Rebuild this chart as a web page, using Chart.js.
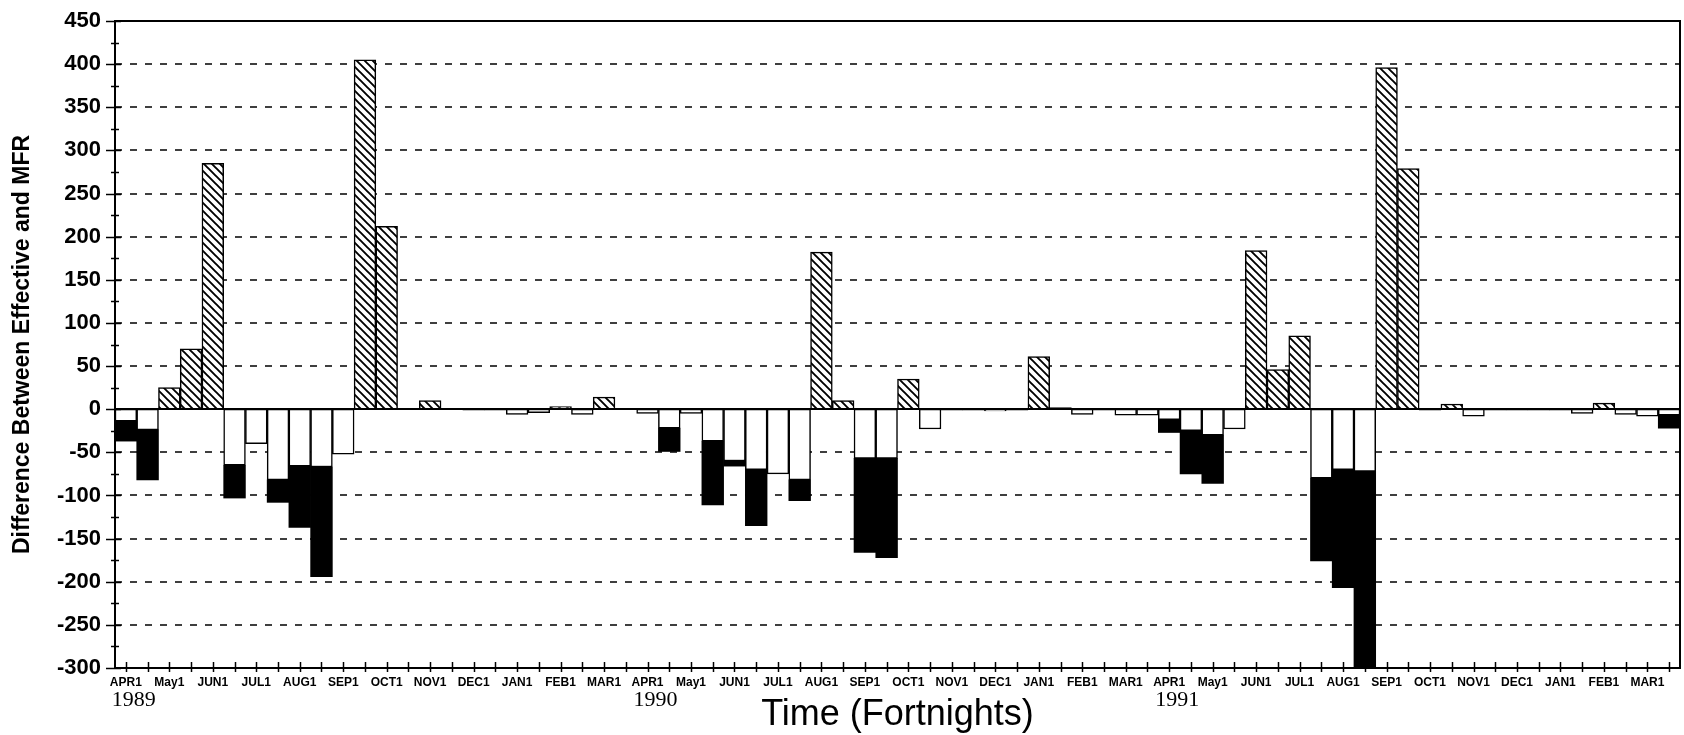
<!DOCTYPE html>
<html>
<head>
<meta charset="utf-8">
<script src="https://cdn.jsdelivr.net/npm/chart.js@4.4.1/dist/chart.umd.min.js"></script>
<style>
  html, body { margin: 0; padding: 0; background: #fff; }
  #wrap { width: 1684px; height: 735px; }
</style>
</head>
<body>
<div id="wrap"><canvas id="fortnightChart" width="1684" height="735"></canvas></div>
<script>
'use strict'

// month tick labels (one per month, first fortnight) and the water years
var monthLabels = ['APR1', 'May1', 'JUN1', 'JUL1', 'AUG1', 'SEP1', 'OCT1', 'NOV1', 'DEC1', 'JAN1', 'FEB1', 'MAR1'];
var yearLabels = ['1989', '1990', '1991'];

// difference between effective and MFR, per fortnight (hatched when positive, open when negative)
var diffValues = [
    -14, -24, 25, 70, 285, -65, -40, -82, -66, -67, -52, 405, 212, 1, 10, 1, -1, -1, -6, -4, 3, -6, 14, 0.5,
    -5, -22, -5, -37, -60, -70, -75, -82, 182, 10, -57, -57, 35, -23, -1, -1, -2, -1, 61, 2, -6, -1, -7, -7,
    -12, -25, -30, -23, 184, 46, 85, -80, -70, -72, 396, 279, -1, 6, -8, -1, -1, -1, -1, -5, 7, -6, -8, -7
];

// lower end of the solid black part, per fortnight (null = none)
var n = null;
var blackBottom = [
    -37, -82, n, n, n, -103, n, -108, -137, -194, n, n, n, n, n, n, n, n, n, n, n, n, n, n,
    n, -49, n, -111, -66, -135, n, -106, n, n, -166, -172, n, n, n, n, n, n, n, n, n, n, n, n,
    -27, -75, -86, n, n, n, n, -176, -207, -300, n, n, n, n, n, n, n, n, n, n, n, n, n, -22
];

// fortnight categories: two per month
var fortnights = [];
yearLabels.forEach(function (yr) {
    monthLabels.forEach(function (m) {
        fortnights.push(m);
        fortnights.push(m.slice(0, -1) + '2');
    });
});

var blackBars = blackBottom.map(function (b, i) {
    return b === null ? null : [diffValues[i], b];
});

/* diagonal hatch */
function makeHatch(ctx) {
    var c = document.createElement('canvas');
    c.width = 8; c.height = 8;
    var g = c.getContext('2d');
    g.fillStyle = '#fff';
    g.fillRect(0, 0, 8, 8);
    g.strokeStyle = '#000';
    g.lineWidth = 1.9;
    g.beginPath();
    g.moveTo(-2, -2); g.lineTo(10, 10);
    g.moveTo(-6, 2); g.lineTo(2, 10);
    g.moveTo(6, -2); g.lineTo(10, 2);
    g.stroke();
    return ctx.createPattern(c, 'repeat');
}

var canvas = document.getElementById('fortnightChart');
var ctx2d = canvas.getContext('2d');
var hatch = makeHatch(ctx2d);

var framePlugin = {
    id: 'framePlugin',
    beforeDatasetsDraw: function (chart) {
        var ctx = chart.ctx, a = chart.chartArea, y = chart.scales.y;
        ctx.save();
        ctx.strokeStyle = '#000';
        ctx.lineWidth = 1.6;
        ctx.setLineDash([7, 8]);
        for (var v = -250; v <= 400; v += 50) {
            if (v === 0) continue;
            var py = Math.round(y.getPixelForValue(v));
            ctx.beginPath();
            ctx.moveTo(a.left, py);
            ctx.lineTo(a.right, py);
            ctx.stroke();
        }
        ctx.restore();
    },
    afterDatasetsDraw: function (chart) {
        var ctx = chart.ctx, a = chart.chartArea, y = chart.scales.y, x = chart.scales.x;
        ctx.save();
        ctx.strokeStyle = '#000';
        ctx.setLineDash([]);
        // zero line
        ctx.lineWidth = 2;
        var py0 = Math.round(y.getPixelForValue(0));
        ctx.beginPath(); ctx.moveTo(a.left, py0); ctx.lineTo(a.right, py0); ctx.stroke();
        // top and right frame
        ctx.beginPath();
        ctx.moveTo(a.left, a.top); ctx.lineTo(a.right, a.top); ctx.lineTo(a.right, a.bottom);
        ctx.stroke();
        // y ticks crossing the axis
        ctx.lineWidth = 1.5;
        for (var v = -300; v <= 450; v += 25) {
            var py = Math.round(y.getPixelForValue(v)) + 0.5;
            var major = v % 50 === 0;
            ctx.beginPath();
            ctx.moveTo(a.left - (major ? 9 : 4), py);
            ctx.lineTo(a.left + (major ? 6 : 4), py);
            ctx.stroke();
        }
        // x ticks
        for (var i = 0; i < fortnights.length; i++) {
            var px = Math.round(x.getPixelForValue(i)) + 0.5;
            ctx.beginPath();
            ctx.moveTo(px, a.bottom - 6);
            ctx.lineTo(px, a.bottom + 4);
            ctx.stroke();
        }
        // years under each APR1
        ctx.fillStyle = '#000';
        ctx.font = '22px "Liberation Serif", "Times New Roman", serif';
        ctx.textAlign = 'center';
        ctx.textBaseline = 'top';
        yearLabels.forEach(function (yr, k) {
            var px = x.getPixelForValue(k * 24);
            ctx.fillText(yr, px + 8, a.bottom + 21);
        });
        ctx.restore();
    }
};

var chartConfig = {
    type: 'bar',
    data: {
        labels: fortnights,
        datasets: [{
            label: 'Difference',
            data: diffValues,
            backgroundColor: function (c) {
                var v = c.raw;
                return v > 0 ? hatch : '#fff';
            },
            borderColor: '#000',
            borderWidth: 1.5,
            borderSkipped: false,
            categoryPercentage: 1,
            barPercentage: 1,
            grouped: false,
            order: 2
        }, {
            label: 'Solid',
            data: blackBars,
            backgroundColor: '#000',
            borderColor: '#000',
            borderWidth: 0,
            categoryPercentage: 1,
            barPercentage: 1,
            grouped: false,
            order: 1
        }]
    },
    options: {
        responsive: false,
        animation: false,
        layout: { padding: { top: 21, right: 4, left: 0, bottom: 0 } },
        plugins: {
            legend: { display: false },
            tooltip: { enabled: false }
        },
        scales: {
            x: {
                stacked: true,
                grid: { display: false, drawTicks: false },
                border: { display: true, color: '#000', width: 2 },
                ticks: {
                    autoSkip: false,
                    maxRotation: 0,
                    minRotation: 0,
                    padding: 7,
                    color: '#000',
                    font: { family: '"Liberation Sans", Arial, sans-serif', size: 12, weight: 'bold' },
                    callback: function (val, idx) {
                        return idx % 2 === 0 ? fortnights[idx] : '';
                    }
                },
                title: {
                    display: true,
                    text: 'Time (Fortnights)',
                    color: '#000',
                    font: { family: '"Liberation Sans", Arial, sans-serif', size: 36, lineHeight: 1 },
                    padding: { top: 0, bottom: 2 }
                },
                afterFit: function (scale) { scale.height = 67; }
            },
            y: {
                min: -300,
                max: 450,
                grid: { display: false, drawTicks: false },
                border: { display: true, color: '#000', width: 2 },
                ticks: {
                    stepSize: 50,
                    padding: 14,
                    color: '#000',
                    font: { family: '"Liberation Sans", Arial, sans-serif', size: 22, weight: 'bold' }
                },
                title: {
                    display: true,
                    text: 'Difference Between Effective and MFR',
                    color: '#000',
                    font: { family: '"Liberation Sans", Arial, sans-serif', size: 23, weight: 'bold', lineHeight: 1 },
                    padding: { top: 11, bottom: 0 }
                },
                afterFit: function (scale) {
                    scale.width = 115;
                    scale.paddingTop = 4;
                    scale.paddingBottom = 4;
                }
            }
        }
    },
    plugins: [framePlugin]
};

var fortnightChart = new Chart(ctx2d, chartConfig);
</script>
</body>
</html>
